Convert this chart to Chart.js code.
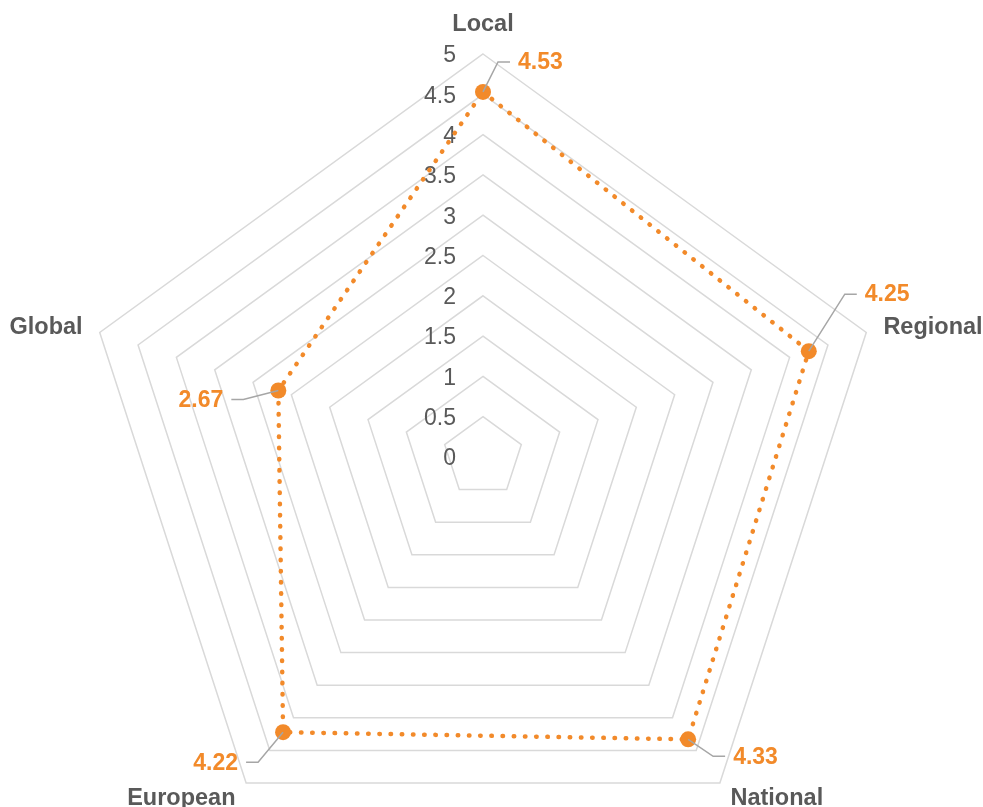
<!DOCTYPE html>
<html>
<head>
<meta charset="utf-8">
<title>Radar</title>
<script src="https://cdn.jsdelivr.net/npm/chart.js@4.4.1/dist/chart.umd.min.js"></script>
<style>
  html, body { margin: 0; padding: 0; background: #ffffff; }
  #wrap { position: relative; width: 983px; height: 807px; }
</style>
</head>
<body>
<div id="wrap"><canvas id="radarChart"></canvas></div>
<script>
const categories = ["Local", "Regional", "National", "European", "Global"];
const scores = [4.53, 4.25, 4.33, 4.22, 2.67];
const tickLabels = ["0", "0.5", "1", "1.5", "2", "2.5", "3", "3.5", "4", "4.5", "5"];

// where each value label's leader line bends, relative to its point
const leaderElbows = [[15, -30], [36, -57], [25, 17], [-25, 30], [-35, 9]];

const ORANGE = "#F28A2A";
const TEXT = "#595959";
const FONT = "'Liberation Sans', Arial, sans-serif";
const RADIUS = 403;

const radarText = {
  id: "radarText",
  beforeDatasetsDraw(chart) {
    const r = chart.scales.r;
    const ctx = chart.ctx;
    ctx.save();
    ctx.fillStyle = TEXT;
    ctx.textBaseline = "middle";

    // tick labels, left of the vertical axis
    ctx.font = "23px " + FONT;
    ctx.textAlign = "right";
    r.ticks.forEach((t, i) => {
      const y = r.yCenter - r.getDistanceFromCenterForValue(t.value);
      ctx.fillText(tickLabels[i], r.xCenter - 27, y + 2);
    });

    // category names
    ctx.font = "bold 23.5px " + FONT;
    categories.forEach((name, i) => {
      const p = r.getPointPosition(i, r.drawingArea + (i === 0 ? 30 : 18));
      const dx = p.x - r.xCenter;
      ctx.textAlign = Math.abs(dx) < 1 ? "center" : dx > 0 ? "left" : "right";
      ctx.fillText(name, p.x, p.y + 1);
    });
    ctx.restore();
  },
  afterDatasetsDraw(chart) {
    const ctx = chart.ctx;
    const meta = chart.getDatasetMeta(0);
    ctx.save();
    ctx.font = "bold 23px " + FONT;
    ctx.textBaseline = "middle";
    meta.data.forEach((pt, i) => {
      const [ex, ey] = leaderElbows[i];
      const side = ex > 0 ? 1 : -1;
      const x1 = pt.x + ex, y1 = pt.y + ey, x2 = x1 + side * 12;
      ctx.strokeStyle = "#A6A6A6";
      ctx.lineWidth = 1.5;
      ctx.beginPath();
      ctx.moveTo(pt.x, pt.y);
      ctx.lineTo(x1, y1);
      ctx.lineTo(x2, y1);
      ctx.stroke();
      ctx.fillStyle = ORANGE;
      ctx.textAlign = side > 0 ? "left" : "right";
      ctx.fillText(scores[i].toFixed(2), x2 + side * 8, y1 + 1);
    });
    ctx.restore();
  }
};

new Chart(document.getElementById("radarChart"), {
  type: "radar",
  data: {
    labels: categories,
    datasets: [{
      data: scores,
      borderColor: ORANGE,
      borderWidth: 4.5,
      borderDash: [0.5, 10.7],
      borderCapStyle: "round",
      fill: false,
      tension: 0,
      pointRadius: 8,
      pointBorderWidth: 0,
      pointBackgroundColor: ORANGE,
    }],
  },
  options: {
    responsive: true,
    maintainAspectRatio: false,
    animation: false,
    layout: { padding: { top: 53, bottom: 0, left: 0, right: 17 } },
    plugins: { legend: { display: false }, tooltip: { enabled: false } },
    scales: {
      r: {
        min: 0,
        max: 5,
        ticks: { stepSize: 0.5, display: false },
        pointLabels: { display: false },
        angleLines: { display: false },
        grid: { color: "#D9D9D9", lineWidth: 1.5 },
        // the plot runs below the canvas bottom edge, so size it by hand
        afterFit(scale) {
          scale.drawingArea = RADIUS;
          scale.yCenter = scale.top + RADIUS + 1;
        },
      },
    },
  },
  plugins: [radarText],
});
</script>
</body>
</html>
